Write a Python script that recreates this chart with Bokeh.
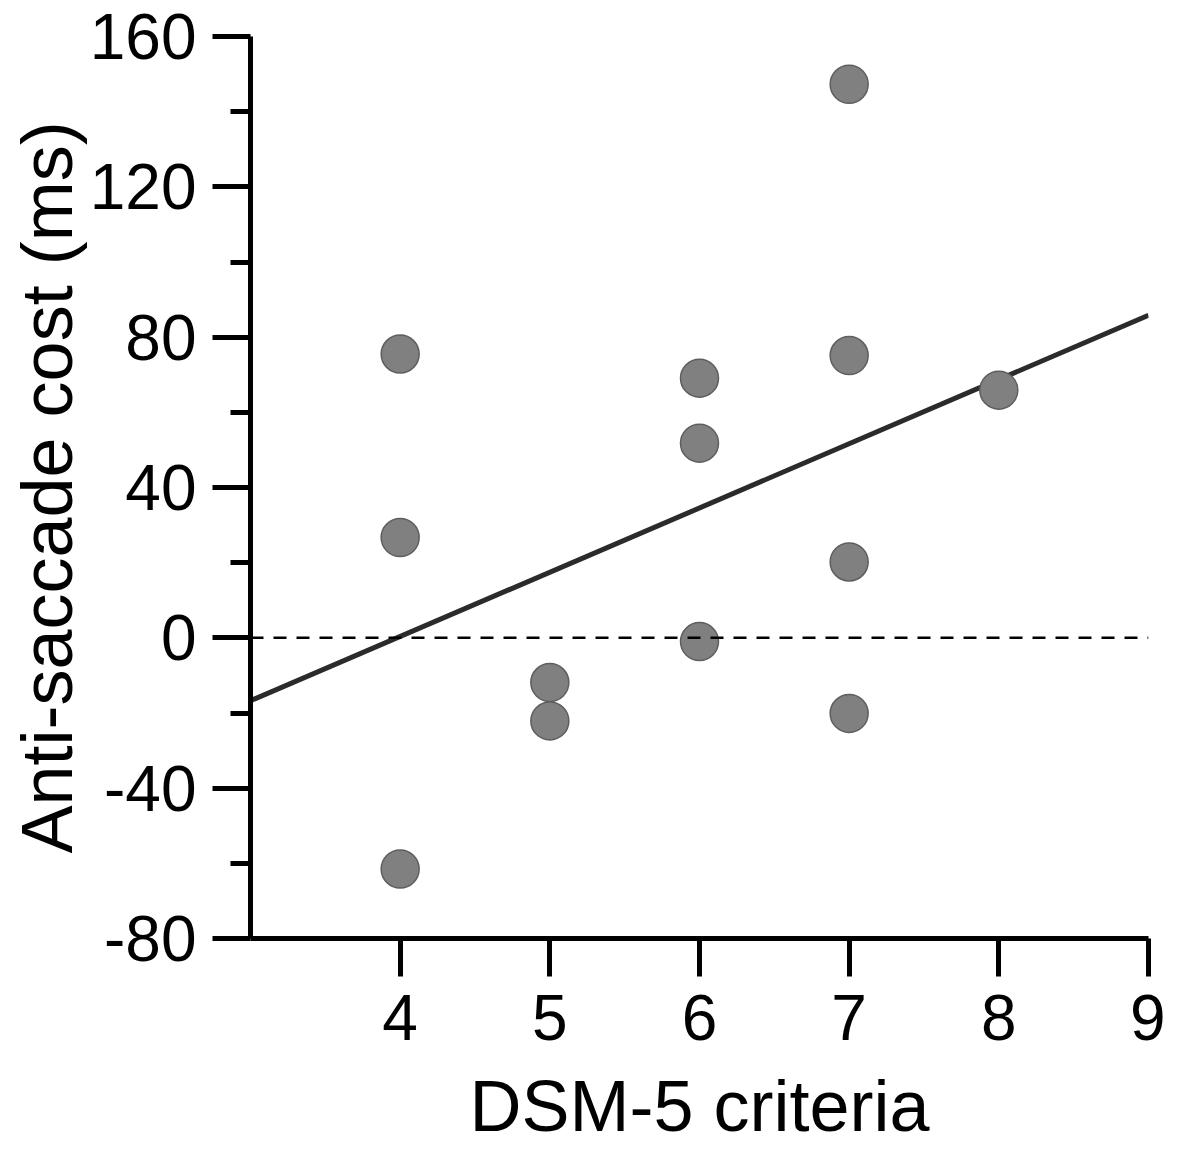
import numpy as np
from bokeh.plotting import figure
from bokeh.models import Range1d, FixedTicker, Span, CustomJSTickFormatter
from bokeh.embed import file_html
from bokeh.resources import INLINE

# ---- data ----
dsm_criteria = [4, 4, 4, 5, 5, 6, 6, 6, 7, 7, 7, 7, 8]
antisaccade_cost = [75.5, 26.7, -61.5, -11.9, -22.1, 69.1, 51.8, -1.0,
                    147.3, 75.1, 20.2, -20.1, 65.9]
x_ticks = [4, 5, 6, 7, 8, 9]
y_ticks = [-80, -40, 0, 40, 80, 120, 160]
y_minor_ticks = [-60, -20, 20, 60, 100, 140]
x_limits = [3, 9]
y_limits = [-80, 160]
x_title = "DSM-5 criteria"
y_title = "Anti-saccade cost (ms)"

FONT = "Liberation Sans"

p = figure(width=1165, height=1148, output_backend="svg", toolbar_location=None,
           x_range=Range1d(*x_limits), y_range=Range1d(*y_limits),
           min_border_left=250, min_border_right=17,
           min_border_top=36, min_border_bottom=210)
p.outline_line_color = None
p.grid.visible = False
p.background_fill_color = "white"
p.border_fill_color = "white"

# regression line (least squares fit on the points)
slope, intercept = np.polyfit(np.array(dsm_criteria, float), np.array(antisaccade_cost, float), 1)
fit_x = np.array(x_limits, float)
fit_y = slope * fit_x + intercept
p.line(fit_x, fit_y, line_color="#2b2b2b", line_width=5)

# points
p.scatter(dsm_criteria, antisaccade_cost, size=38, marker="circle",
          fill_color="#808080", line_color="#5e5e5e", line_width=1.5)

# zero reference line
p.add_layout(Span(location=0, dimension="width", line_color="black",
                  line_width=2.5, line_dash="13 10"))

# axes
xa = p.xaxis[0]
ya = p.yaxis[0]
xa.ticker = FixedTicker(ticks=x_ticks, minor_ticks=[])
ya.ticker = FixedTicker(ticks=y_ticks, minor_ticks=y_minor_ticks)
ya.formatter = CustomJSTickFormatter(code="return String(tick);")
xa.axis_label = x_title
ya.axis_label = y_title

for ax in (xa, ya):
    ax.axis_line_color = "black"
    ax.axis_line_width = 5
    ax.major_tick_line_color = "black"
    ax.major_tick_line_width = 5
    ax.minor_tick_line_color = "black"
    ax.minor_tick_line_width = 5
    ax.major_tick_in = 0
    ax.major_tick_out = 38
    ax.minor_tick_in = 0
    ax.minor_tick_out = 20
    ax.major_label_text_font = FONT
    ax.major_label_text_font_size = "64px"
    ax.major_label_text_color = "black"
    ax.axis_label_text_font = FONT
    ax.axis_label_text_font_size = "72px"
    ax.axis_label_text_font_style = "normal"
    ax.axis_label_text_color = "black"

xa.major_label_standoff = 18
xa.axis_label_standoff = 23
ya.major_label_standoff = 16
ya.axis_label_standoff = 0

open("out.html", "w").write(file_html(p, INLINE))
